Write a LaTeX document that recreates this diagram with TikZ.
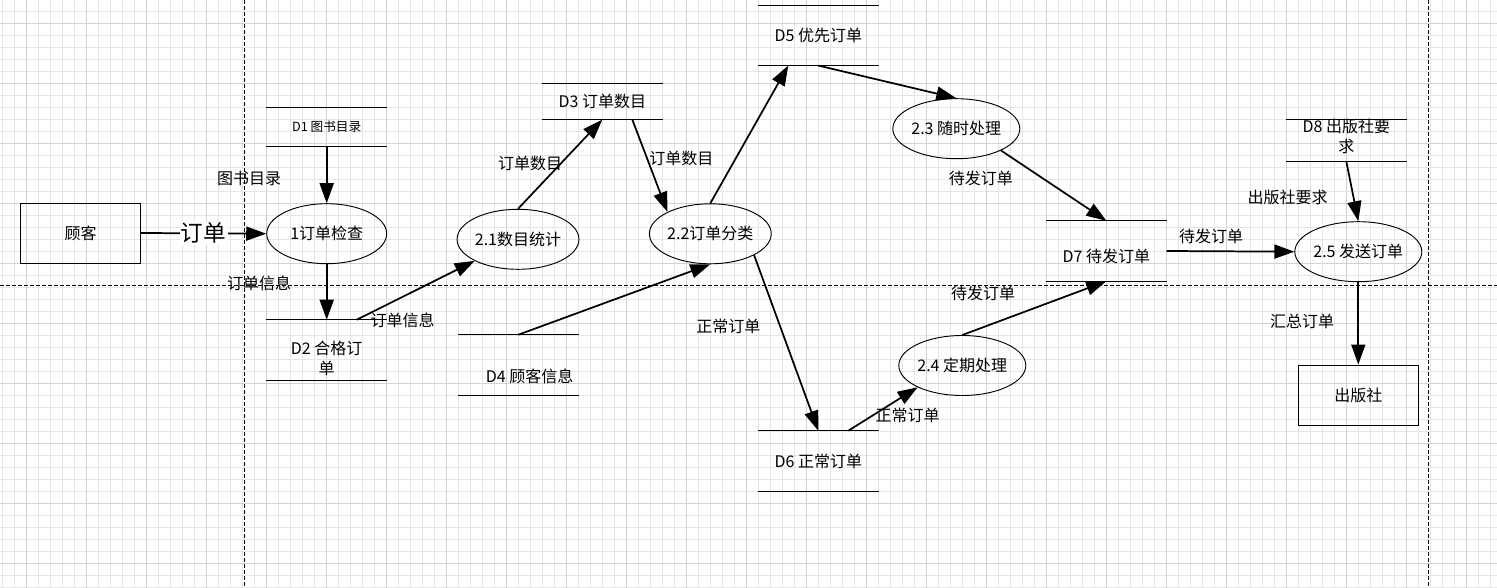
\documentclass[tikz,border=0pt]{standalone}
\usepackage{fontspec}
\setmainfont{Noto Sans CJK SC}
\usetikzlibrary{arrows.meta,calc,shapes.geometric}

\definecolor{gridminor}{RGB}{229,229,229}
\definecolor{gridmajor}{RGB}{210,210,210}

\begin{document}
\begin{tikzpicture}[x=0.75pt,y=-0.75pt,>={Triangle[length=15pt,width=10.5pt]},
  flow/.style={->,line width=1.3pt},
  proc/.style={ellipse,draw,line width=0.7pt,minimum width=90pt,minimum height=45pt,inner sep=0pt,font=\fontsize{12}{15}\selectfont},
  ext/.style={rectangle,draw,line width=0.7pt,minimum width=90pt,minimum height=45pt,font=\fontsize{12}{15}\selectfont},
  store/.style={minimum width=90pt,minimum height=#1,inner sep=0pt,align=center,font=\fontsize{12}{15}\selectfont,
    append after command={(\tikzlastnode.north west) edge[storeline] (\tikzlastnode.north east)
      (\tikzlastnode.south west) edge[storeline] (\tikzlastnode.south east)}},
  storeline/.style={draw,-,line width=0.7pt},
  lbl/.style={inner sep=0pt,font=\fontsize{12}{15}\selectfont},
  guide/.style={line width=0.7pt,dash pattern=on 3pt off 1.5pt}]

\useasboundingbox (0,0) rectangle (1497,588);
\fill[white] (0,0) rectangle (1497,588);

% grid paper
\foreach \gx in {2,14,...,1496} \draw[gridminor,line width=0.6pt] (\gx,0) -- (\gx,588);
\foreach \gy in {11,23,...,587} \draw[gridminor,line width=0.6pt] (0,\gy) -- (1497,\gy);
\foreach \gx in {26,86,...,1496} \draw[gridmajor,line width=0.6pt] (\gx,0) -- (\gx,588);
\foreach \gy in {23,83,...,587} \draw[gridmajor,line width=0.6pt] (0,\gy) -- (1497,\gy);

% page breaks
\draw[guide] (244,0) -- (244,588);
\draw[guide] (1428,0) -- (1428,588);
\draw[guide] (0,285) -- (1497,285);

\node[ext] (cust) at (80.5,233) {顾客};
\node[ext] (pub) at (1358.3,395) {出版社};

\node[proc] (p1) at (326.7,233.7) {1订单检查};
\node[proc] (p21) at (518,239.3) {2.1数目统计};
\node[proc] (p22) at (710.3,233.8) {2.2订单分类};
\node[proc] (p23) at (956.3,128.7) {2.3 随时处理};
\node[proc] (p24) at (962.3,365.5) {2.4 定期处理};
\node[proc] (p25) at (1358.3,251.7) {2.5 发送订单};

\node[store=29.5pt,font=\fontsize{9.5}{12}\selectfont] (d1) at (326.7,127) {D1 图书目录};
\node[store=45pt] (d2) at (326.7,350) {\rule{0pt}{22.5pt}D2 合格订\\单};
\node[store=27pt] (d3) at (602.3,101.3) {D3 订单数目};
\node[store=45pt,text height=27pt,text depth=1.5pt] (d4) at (518.3,365) {\hspace*{17pt}D4 顾客信息};
\node[store=45pt] (d5) at (818.3,35.3) {D5 优先订单};
\node[store=45pt] (d6) at (818.3,461) {D6 正常订单};
\node[store=45pt,text height=19pt,text depth=1.4pt] (d7) at (1106.3,251) {D7 待发订单};
\node[store=31.3pt] (d8) at (1346.3,140.2) {D8 出版社要\\求\rule[-6pt]{0pt}{6pt}};

\draw[flow] (cust.east) -- node[fill=white,inner sep=1pt,font=\fontsize{17}{20}\selectfont] (ordlbl) {订单} (p1.west);
\draw[flow] (d1.south) -- (p1.north);
\draw[flow] (p1.south) -- (d2.north);
\draw[flow] ($(d2.north)+(30,0)$) -- (p21);
\draw[flow] (p21.north) -- (d3.south);
\draw[flow] ($(d3.south)+(30,0)$) -- (p22.153);
\draw[flow] (d4.north) -- (p22.south);
\draw[flow] (p22.north) -- ($(d5.south)+(-30,0)$);
\draw[flow] (d5.south) -- (p23.north);
\draw[flow] (p23.-26) -- (d7.north);
\draw[flow] (p22.-26) -- (d6.north);
\draw[flow] ($(d6.north)+(30,0)$) -- (p24.206);
\draw[flow] (p24.north) -- (d7.south);
\draw[flow] (d7.east) -- (p25.west);
\draw[flow] (d8.south) -- (p25.north);
\draw[flow] (p25.south) -- (pub.north);

\node[lbl] (l1) at (249,178) {图书目录};
\node[lbl] (l2) at (259,283) {订单信息};
\node[lbl] (l3) at (402.5,320) {订单信息};
\node[lbl] (l4) at (530,163.3) {订单数目};
\node[lbl] (l5) at (681.3,158.3) {订单数目};
\node[lbl] (l6) at (728.3,326.7) {正常订单};
\node[lbl] (l7) at (980.8,178.3) {待发订单};
\node[lbl] (l8) at (907.5,415) {正常订单};
\node[lbl] (l9) at (983,293.3) {待发订单};
\node[lbl] (l10) at (1211,236.5) {待发订单};
\node[lbl] (l11) at (1287.5,197.3) {出版社要求};
\node[lbl] (l12) at (1302,321.7) {汇总订单};

\end{tikzpicture}
\end{document}
